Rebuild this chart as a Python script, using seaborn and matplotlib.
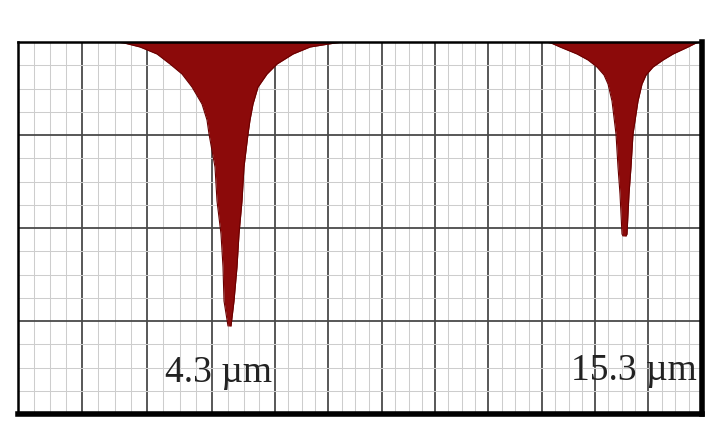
import numpy as np
import pandas as pd
import matplotlib
matplotlib.use("Agg")
import matplotlib.pyplot as plt
import seaborn as sns

# chart-paper units (x from left frame, depth from top frame)
depth_a = [0, 1, 5, 12, 22, 32, 45, 62, 78, 92, 125, 159, 192, 225, 259, 284]
left_a = [98, 106, 122, 139, 152, 164, 174, 184, 189, 191, 197, 199, 203, 205, 206, 210]
right_a = [326, 317, 292, 275, 259, 249, 240, 235, 232, 230, 226, 224, 221, 219, 216, 213]

depth_b = [0, 1, 5, 12, 18, 25, 33, 42, 59, 92, 125, 152, 192, 194]
left_b = [527, 533, 542, 559, 570, 579, 586, 590, 594, 598, 600, 602, 604, 605]
right_b = [682, 678, 670, 655, 645, 635, 628, 624, 620, 615, 613, 611, 609, 608]

peak_labels = ["4.3 \u00b5m", "15.3 \u00b5m"]
label_x = [201, 616]
label_depth = [339, 337]

grid_x = [0, 64, 129, 194, 257, 310, 364, 417, 470, 524, 577, 630, 684]
grid_depth = [0, 93, 186, 279, 372]

bands = pd.concat([
    pd.DataFrame({"depth": depth_a, "left": left_a, "right": right_a, "band": "a"}),
    pd.DataFrame({"depth": depth_b, "left": left_b, "right": right_b, "band": "b"}),
])

sns.set_style("white")
plt.rcParams["font.family"] = ["Liberation Serif", "DejaVu Serif"]

fig = plt.figure(figsize=(7.1, 4.39), dpi=100)
ax = fig.add_axes([18 / 710, 1 - 415 / 439, 684 / 710, 372 / 439])

fill = "#8c0a0a"
for name, g in bands.groupby("band"):
    ax.fill_betweenx(g["depth"], g["left"], g["right"], color=fill, lw=0, zorder=3)
    sns.lineplot(x=g["left"], y=g["depth"], sort=False, ax=ax, color="#6a0000", lw=0.8, zorder=4)
    sns.lineplot(x=g["right"], y=g["depth"], sort=False, ax=ax, color="#6a0000", lw=0.8, zorder=4)

for lab, x, d in zip(peak_labels, label_x, label_depth):
    ax.text(x, d, lab, ha="center", va="baseline", fontsize=27, color="#222222", zorder=5)

minor_x = np.concatenate([np.linspace(a, b, 5)[1:-1] for a, b in zip(grid_x[:-1], grid_x[1:])])
minor_y = np.concatenate([np.linspace(a, b, 5)[1:-1] for a, b in zip(grid_depth[:-1], grid_depth[1:])])
ax.set_xticks(grid_x)
ax.set_yticks(grid_depth)
ax.set_xticks(minor_x, minor=True)
ax.set_yticks(minor_y, minor=True)
ax.grid(which="major", color="#4a4a4a", lw=1.3, zorder=1)
ax.grid(which="minor", color="#cdcdcd", lw=0.75, zorder=0)
ax.set_axisbelow(True)
ax.tick_params(which="both", length=0, labelbottom=False, labelleft=False)
ax.set_xlabel("")
ax.set_ylabel("")

ax.set_xlim(0, 684)
ax.set_ylim(372, 0)

for side, w in [("left", 1.8), ("top", 1.8), ("bottom", 4), ("right", 4)]:
    ax.spines[side].set_visible(True)
    ax.spines[side].set_color("black")
    ax.spines[side].set_linewidth(w)
    ax.spines[side].set_zorder(6)

fig.savefig("out.png", dpi=100)
